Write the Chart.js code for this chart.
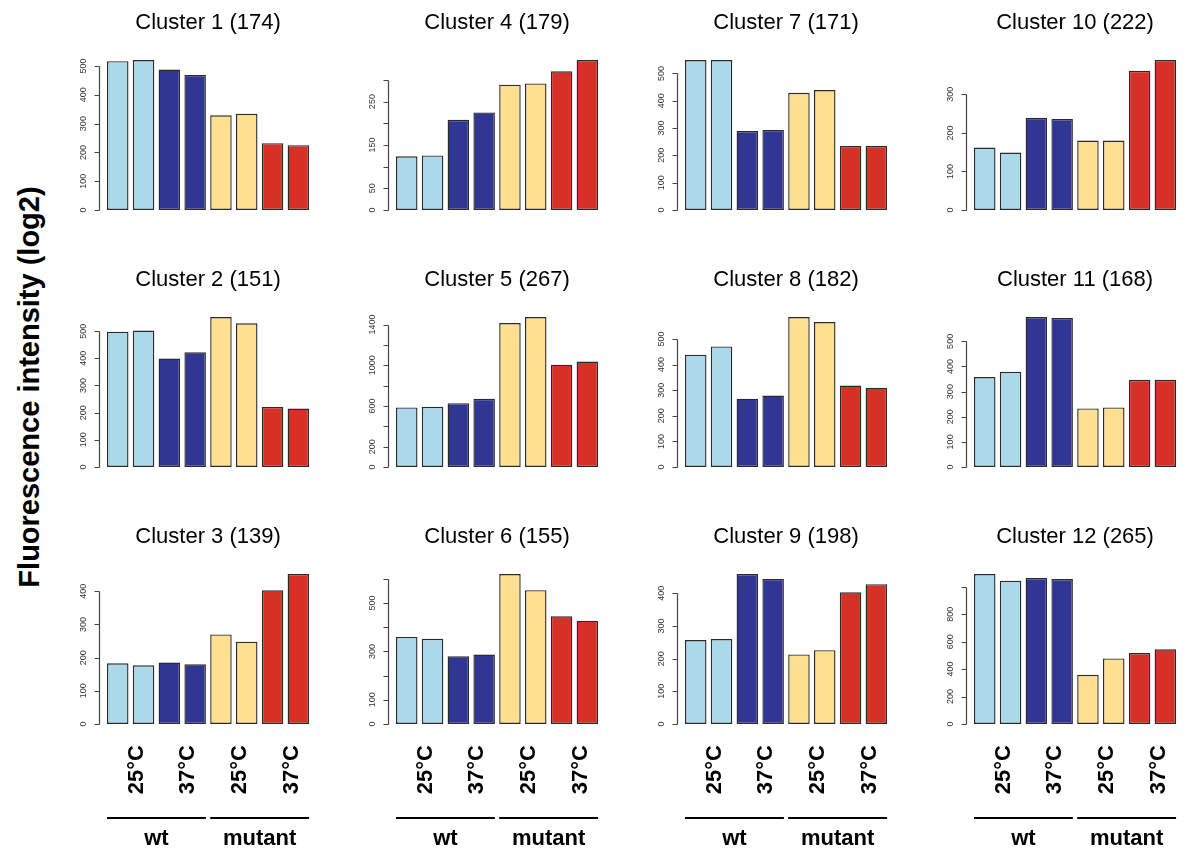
<!DOCTYPE html>
<html>
<head>
<meta charset="utf-8">
<script src="https://cdn.jsdelivr.net/npm/chart.js@4.4.1/dist/chart.umd.min.js"></script>
<style>
  body { margin: 0; background: #fff; width: 1194px; height: 854px; position: relative; overflow: hidden; font-family: Arial, "Liberation Sans", sans-serif; }
  canvas { position: absolute; }
  #ytitle { position: absolute; left: 29px; top: 387px; transform: translate(-50%, -50%) rotate(-90deg); font-weight: bold; font-size: 29px; white-space: nowrap; }
</style>
</head>
<body>
<div id="ytitle">Fluorescence intensity (log2)</div>
<script>
// bars: wt 25°C x2, wt 37°C x2, mutant 25°C x2, mutant 37°C x2
const categories = ['wt 25°C a', 'wt 25°C b', 'wt 37°C a', 'wt 37°C b', 'mutant 25°C a', 'mutant 25°C b', 'mutant 37°C a', 'mutant 37°C b'];
const barColors = ['#ABD9E9', '#ABD9E9', '#313695', '#313695', '#FEE090', '#FEE090', '#D73027', '#D73027'];
const temps = ['25°C', '37°C'];
const groups = ['wt', 'mutant'];

const titles = ['Cluster 1 (174)', 'Cluster 2 (151)', 'Cluster 3 (139)', 'Cluster 4 (179)', 'Cluster 5 (267)', 'Cluster 6 (155)',
                'Cluster 7 (171)', 'Cluster 8 (182)', 'Cluster 9 (198)', 'Cluster 10 (222)', 'Cluster 11 (168)', 'Cluster 12 (265)'];

const cluster1 = [517, 521, 488, 469, 329, 334, 232, 225];
const cluster2 = [498, 502, 399, 422, 552, 529, 221, 215];
const cluster3 = [183, 177, 185, 180, 270, 248, 403, 452];
const cluster4 = [124, 126, 208, 225, 289, 292, 320, 346];
const cluster5 = [585, 591, 627, 670, 1415, 1474, 1006, 1036];
const cluster6 = [360, 352, 280, 287, 620, 553, 445, 427];
const cluster7 = [549, 549, 289, 293, 429, 439, 234, 234];
const cluster8 = [439, 471, 267, 279, 586, 566, 318, 310];
const cluster9 = [257, 260, 459, 444, 213, 226, 403, 428];
const cluster10 = [162, 149, 239, 236, 180, 180, 361, 389];
const cluster11 = [358, 379, 597, 593, 233, 237, 347, 347];
const cluster12 = [1093, 1044, 1063, 1056, 359, 478, 517, 544];

const ticks500 = [0, 100, 200, 300, 400, 500];
const ticks400 = [0, 100, 200, 300, 400];
const ticks300 = [0, 100, 200, 300];
const ticks4 = [0, 50, 100, 150, 200, 250, 300];
const labels4 = ['0', '50', '', '150', '', '250', ''];
const ticks5 = [0, 200, 400, 600, 800, 1000, 1200, 1400];
const labels5 = ['0', '200', '', '600', '', '1000', '', '1400'];
const ticks6 = [0, 100, 200, 300, 400, 500, 600];
const labels6 = ['0', '100', '', '300', '', '500', ''];
const ticks12 = [0, 200, 400, 600, 800, 1000];
const labels12 = ['0', '200', '400', '600', '800', ''];

const clusterData = [cluster1, cluster2, cluster3, cluster4, cluster5, cluster6, cluster7, cluster8, cluster9, cluster10, cluster11, cluster12];
const clusterTicks = [ticks500, ticks500, ticks400, ticks4, ticks5, ticks6, ticks500, ticks500, ticks400, ticks300, ticks500, ticks12];
const clusterLabels = [null, null, null, labels4, labels5, labels6, null, null, null, null, null, labels12];

const baselines = [210, 467, 724];
const plotH = 156;

clusterData.forEach((data, i) => {
    const col = Math.floor(i / 3), row = i % 3;
    const ticks = clusterTicks[i];
    const labels = clusterLabels[i] || ticks.map(String);
    const areaLeft = 104.85 + 289 * col;
    const areaW = 206.4;
    const top = baselines[row] - 205;
    const width = 280, height = row === 2 ? 854 - top : 215;
    const left = Math.round(areaLeft - 62);

    const cv = document.createElement('canvas');
    cv.width = width; cv.height = height;
    cv.style.left = left + 'px'; cv.style.top = top + 'px';
    document.body.appendChild(cv);

    // R-style axis, title and the bottom labels
    const rAxis = {
        id: 'rAxis',
        afterDraw(chart) {
            const ctx = chart.ctx, y = chart.scales.y, x = chart.scales.x, area = chart.chartArea;
            const ax = Math.round(area.left - 6) + 0.5;
            ctx.save();
            ctx.strokeStyle = '#444';
            ctx.lineWidth = 1.2;
            ctx.beginPath();
            ctx.moveTo(ax, Math.round(y.getPixelForValue(ticks[0])) + 0.5);
            ctx.lineTo(ax, Math.round(y.getPixelForValue(ticks[ticks.length - 1])) + 0.5);
            ticks.forEach(t => {
                const py = Math.round(y.getPixelForValue(t)) + 0.5;
                ctx.moveTo(ax, py);
                ctx.lineTo(ax - 5, py);
            });
            ctx.stroke();

            ctx.fillStyle = '#333';
            ctx.font = '9px Arial';
            ctx.textAlign = 'center';
            ctx.textBaseline = 'middle';
            labels.forEach((l, k) => {
                if (!l) return;
                ctx.save();
                ctx.translate(ax - 16, y.getPixelForValue(ticks[k]));
                ctx.rotate(-Math.PI / 2);
                ctx.fillText(l, 0, 0);
                ctx.restore();
            });

            ctx.fillStyle = '#000';
            ctx.font = '22px Arial';
            ctx.fillText(titles[i], (area.left + area.right) / 2, area.bottom - 187);

            if (row === 2) {
                const bars = chart.getDatasetMeta(0).data;
                ctx.font = 'bold 22px Arial';
                for (let p = 0; p < 4; p++) {
                    const px = (x.getPixelForValue(2 * p) + x.getPixelForValue(2 * p + 1)) / 2;
                    ctx.save();
                    ctx.translate(px + 6, area.bottom + 21);
                    ctx.rotate(-Math.PI / 2);
                    ctx.textAlign = 'right';
                    ctx.fillText(temps[p % 2], 0, 0);
                    ctx.restore();
                }
                ctx.strokeStyle = '#000';
                ctx.lineWidth = 2;
                groups.forEach((g, k) => {
                    const b0 = bars[4 * k], b1 = bars[4 * k + 3];
                    const x0 = b0.x - b0.width / 2, x1 = b1.x + b1.width / 2;
                    ctx.beginPath();
                    ctx.moveTo(x0, area.bottom + 94);
                    ctx.lineTo(x1, area.bottom + 94);
                    ctx.stroke();
                    ctx.fillText(g, (x0 + x1) / 2, area.bottom + 115);
                });
            }
            ctx.restore();
        }
    };

    new Chart(cv.getContext('2d'), {
        type: 'bar',
        data: {
            labels: categories,
            datasets: [{
                data: data,
                backgroundColor: barColors,
                borderColor: '#2a2a2a',
                borderWidth: 1.4,
                borderSkipped: false,
                categoryPercentage: 1,
                barPercentage: 1 / 1.2
            }]
        },
        options: {
            responsive: false,
            animation: false,
            layout: { padding: { left: areaLeft - left, right: width - (areaLeft - left) - areaW, top: 205 - plotH, bottom: height - 205 } },
            plugins: { legend: { display: false }, tooltip: { enabled: false } },
            scales: {
                x: { display: false },
                y: { display: false, min: 0, max: Math.max(...data) * 1.04 }
            }
        },
        plugins: [rAxis]
    });
});
</script>
</body>
</html>
